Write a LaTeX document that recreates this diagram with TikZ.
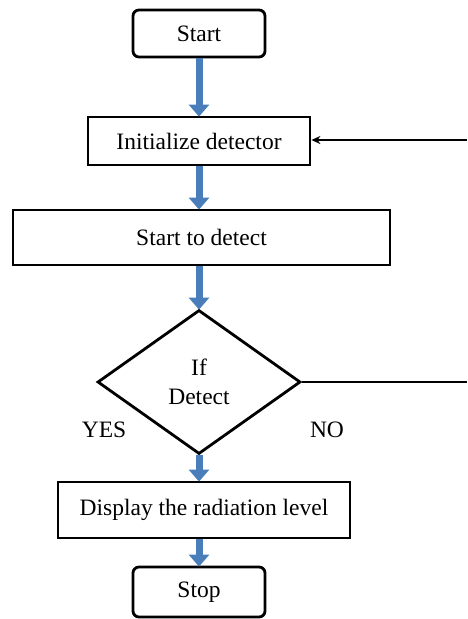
\documentclass[tikz,border=0pt]{standalone}
\usepackage{fontspec}
\setmainfont{Liberation Serif}
\usetikzlibrary{shapes.geometric,arrows.meta}
\definecolor{flowblue}{HTML}{4A7EBB}
\tikzset{
  box/.style={draw=black, line width=2.8pt, fill=white, inner sep=0pt, font=\fontsize{23.5}{28}\selectfont},
  rbox/.style={box, rounded corners=6pt},
  decision/.style={draw=black, line width=2.8pt, fill=white, shape=diamond, inner sep=0pt, font=\fontsize{23.5}{29}\selectfont, align=center},
  bluearrow/.style={draw=flowblue, line width=7pt, -{Triangle[width=20pt,length=12pt]}, shorten >=-1pt},
  feedback/.style={draw=black, line width=1.6pt},
  lbl/.style={font=\fontsize{23.5}{28}\selectfont, inner sep=0pt}
}
\begin{document}
\begin{tikzpicture}[x=1pt,y=-1pt]
\useasboundingbox (0,0) rectangle (467,619);
\node[rbox, minimum width=132pt, minimum height=47pt] (start) at (199,33.5) {Start};
\node[box, minimum width=222pt, minimum height=48pt] (init) at (199,141) {Initialize detector};
\node[box, minimum width=377pt, minimum height=55pt] (detect) at (201.5,237.5) {Start to detect};
\node[decision, minimum width=203pt, minimum height=144pt] (dia) at (199,382) {If\\Detect};
\node[box, minimum width=292pt, minimum height=56pt] (disp) at (204,510) {Display the radiation level};
\node[rbox, minimum width=132pt, minimum height=50pt] (stop) at (199,592) {Stop};
\node[lbl] (yes) at (104,430) {YES};
\node[lbl] (no) at (327,430) {NO};
\coordinate (fbtop) at (467,140);
\coordinate (fbbot) at (467,382);
\draw[bluearrow] (start.south) -- (init.north);
\draw[bluearrow] (init.south) -- (init.south |- detect.north);
\draw[bluearrow] (init.south |- detect.south) -- (dia.north);
\draw[bluearrow] (dia.south) -- (dia.south |- disp.north);
\draw[bluearrow] (dia.south |- disp.south) -- (stop.north);
\draw[feedback] (dia.east) -- (fbbot);
\draw[feedback, -{Stealth[length=9pt,width=8pt]}] (fbtop) -- (init.east |- fbtop);
\end{tikzpicture}
\end{document}
